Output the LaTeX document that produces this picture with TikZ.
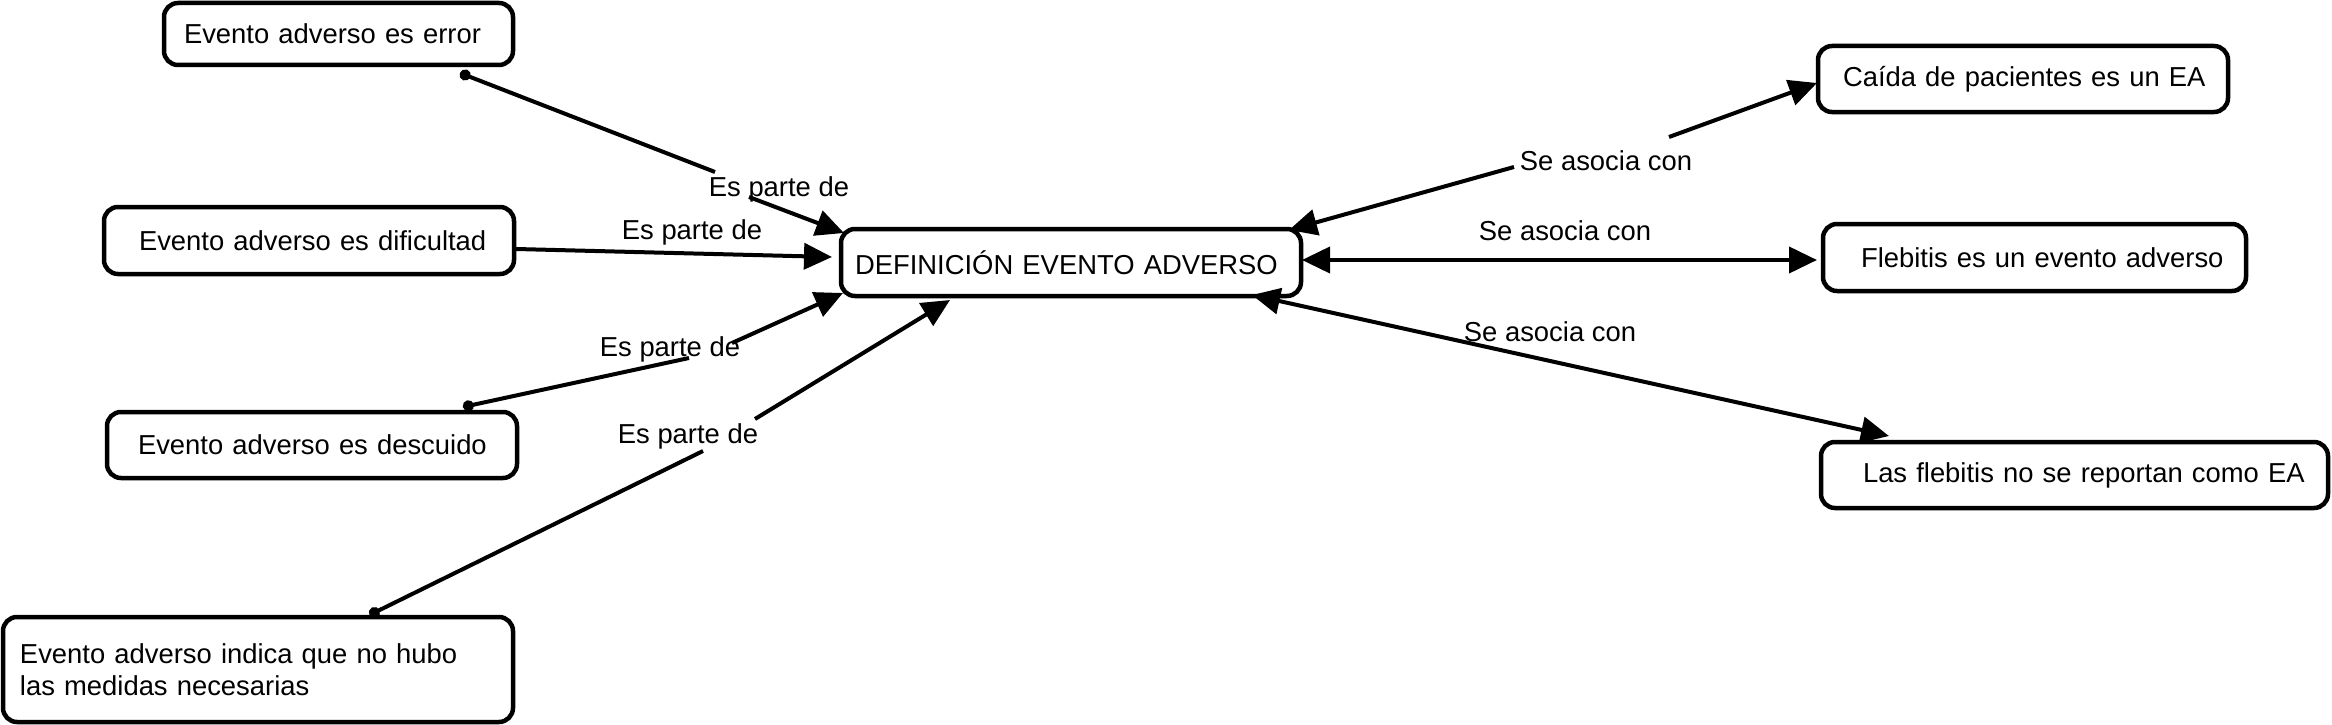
\documentclass[tikz,border=0pt]{standalone}
\usepackage{fontspec}
\setmainfont{Liberation Sans}
\usetikzlibrary{arrows.meta,calc}
\tikzset{
  box/.style={draw, line width=4.5pt, rounded corners=14pt, inner xsep=0pt, inner ysep=0pt,
    outer sep=0pt, align=left, anchor=north west, font=\fontsize{27.4}{32}\selectfont},
  lab/.style={inner sep=0pt, font=\fontsize{27.4}{32}\selectfont},
  conn/.style={line width=4pt},
  tipend/.style={-{Triangle[length=28pt,width=26pt]}},
  dotstart/.style={{Circle[length=11pt]}-},
}
\begin{document}
\begin{tikzpicture}[x=1pt,y=-1pt]
\useasboundingbox (0,0) rectangle (2332,725);
% boxes
\node[box, text width=349pt, minimum height=62pt] (err) at (164,3) {\hspace*{20pt}Evento adverso es error};
\node[box, text width=410pt, minimum height=67pt] (dif) at (104,207) {\hspace*{35pt}Evento adverso es dificultad};
\node[box, text width=410pt, minimum height=66pt] (desc) at (107,412) {\hspace*{31pt}Evento adverso es descuido};
\node[box, text width=510pt, minimum height=105pt] (med) at (3,617) {\hspace*{17pt}Evento adverso indica que no hubo\\\hspace*{17pt}las medidas necesarias};
\node[box, text width=460pt, minimum height=67pt] (def) at (841,229) {\hspace*{14pt}DEFINICIÓN EVENTO ADVERSO};
\node[box, text width=410pt, minimum height=66pt] (cai) at (1818,46) {\hspace*{25pt}Caída de pacientes es un EA};
\node[box, text width=423pt, minimum height=67pt] (fle) at (1823,224) {\hspace*{38pt}Flebitis es un evento adverso};
\node[box, text width=507pt, minimum height=66pt] (las) at (1821,442) {\hspace*{42pt}Las flebitis no se reportan como EA};
% labels
\node[lab] (l1) at (779,189) {Es parte de};
\node[lab] (l2) at (692,232) {Es parte de};
\node[lab] (l3) at (670,349) {Es parte de};
\node[lab] (l4) at (688,436) {Es parte de};
\node[lab] (r1) at (1606,161) {Se asocia con};
\node[lab] (r2) at (1565,231) {Se asocia con};
\node[lab] (r3) at (1550,332) {Se asocia con};
% connectors
\draw[conn,dotstart] ($(err.south east)+(-53,8)$) -- ($(l1)+(-64,-17)$);
\draw[conn,tipend] ($(l1)+(-30,8)$) -- ($(def.north west)+(3,4)$);
\draw[conn,dotstart,tipend] ($(dif.east)+(2,8.5)$) -- ($(def.west)+(-9,-5.5)$);
\draw[conn,dotstart] ($(desc.north east)+(-54,-5)$) -- ($(l3)+(19,9)$);
\draw[conn,tipend] ($(l3)+(62,-6)$) -- ($(def.south west)+(2,-3)$);
\draw[conn,dotstart] ($(med.north)+(111.5,-2)$) -- ($(l4)+(15,15)$);
\draw[conn,tipend] ($(l4)+(67,-17)$) -- ($(def.south west)+(109,4)$);
\draw[conn,tipend] ($(r1)+(-92,6)$) -- ($(def.north east)+(-12,1)$);
\draw[conn,tipend] ($(r1)+(63,-24)$) -- ($(cai.west)+(-1,4)$);
\draw[conn,{Triangle[length=28pt,width=26pt]}-{Triangle[length=28pt,width=26pt]}] ($(def.east)+(1,-2.5)$) -- ($(fle.west)+(-6,2.5)$);
\draw[conn,{Triangle[length=28pt,width=26pt]}-{Triangle[length=28pt,width=26pt]}] ($(def.south east)+(-49,-1)$) -- ($(las.north west)+(68,-6)$);
\end{tikzpicture}
\end{document}
